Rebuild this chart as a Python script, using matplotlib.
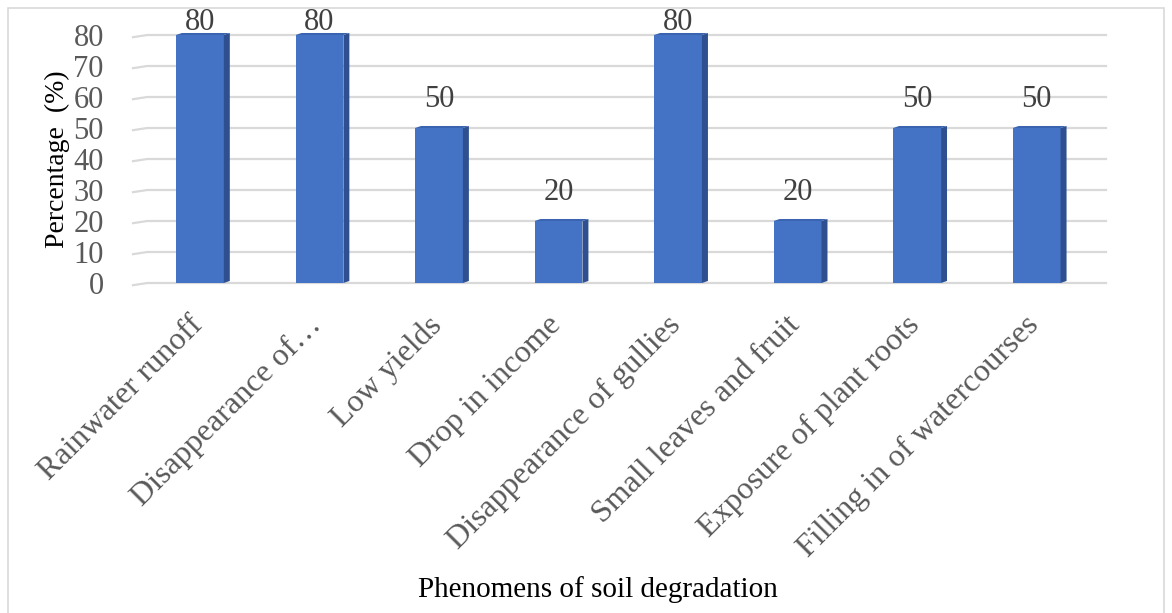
import matplotlib.pyplot as plt
from matplotlib.patches import Polygon, Rectangle
from matplotlib.transforms import ScaledTranslation

categories = ["Rainwater runoff", "Disappearance of\u2026", "Low yields", "Drop in income",
              "Disappearance of gullies", "Small leaves and fruit",
              "Exposure of plant roots", "Filling in of watercourses"]
percent = [80, 80, 50, 20, 80, 20, 50, 50]
yticks = [0, 10, 20, 30, 40, 50, 60, 70, 80]

plt.rcParams['font.family'] = ['Liberation Serif', 'DejaVu Serif']

W, H = 1172, 613
fig = plt.figure(figsize=(W / 100, H / 100), dpi=100)
fig.patches.append(Rectangle((8 / W, -0.01), (1164 - 8) / W, 1 - 8 / H + 0.01,
                             transform=fig.transFigure, fill=False,
                             edgecolor='#d9d9d9', linewidth=1.2))

# plot area in pixels
left, right, bottom, top = 133, 1106, 283, 35
ax = fig.add_axes([left / W, 1 - bottom / H, (right - left) / W, (bottom - top) / H])
ax.set_xlim(-0.56, 7.58)
ax.set_ylim(0, 80)
for s in ax.spines.values():
    s.set_visible(False)

# gridlines with a small slanted floor stub on the left
for t in yticks:
    ax.plot([-0.56, -0.44, 7.58], [t - 0.7, t, t], color='#d9d9d9', lw=1.6,
            clip_on=False, zorder=1)

face = '#4472c4'
side = '#2f5090'
topc = '#3a64b0'
bw = 0.40
dx, dy = 0.05, 0.65
x = range(len(categories))
ax.bar(x, percent, width=bw, color=face, zorder=3)
for xi, v in zip(x, percent):
    r = xi + bw / 2
    l = xi - bw / 2
    ax.add_patch(Polygon([(r, 0), (r + dx, dy), (r + dx, v + dy), (r, v)],
                         closed=True, facecolor=side, edgecolor='none', zorder=3,
                         clip_on=False))
    ax.add_patch(Polygon([(l, v), (l + dx, v + dy), (r + dx, v + dy), (r, v)],
                         closed=True, facecolor=topc, edgecolor='none', zorder=3,
                         clip_on=False))
    ax.text(xi, min(v + 4.5, 79.5), str(v), ha='center', va='bottom', fontsize=22,
            color='#404040', zorder=4, clip_on=False)

ax.set_yticks(yticks)
ax.set_yticklabels([str(t) for t in yticks], fontsize=22, color='#595959')
ax.tick_params(axis='y', length=0, pad=21)
ax.set_xticks(list(x))
ax.set_xticklabels(categories, rotation=45, ha='right', va='top',
                   rotation_mode='anchor', fontsize=23, color='#595959')
ax.tick_params(axis='x', length=0, pad=20)
shift = ScaledTranslation(-12 / 100, 0, fig.dpi_scale_trans)
for lab in ax.get_xticklabels():
    lab.set_transform(lab.get_transform() + shift)

fig.text(57 / W, 1 - 159 / H, "Percentage  (%)", rotation=90, ha='center',
         va='center', fontsize=20, color='black')
fig.text(598 / W, 1 - 590 / H, "Phenomens of soil degradation", ha='center',
         va='center', fontsize=21, color='black')

fig.savefig('out.png', dpi=100)
